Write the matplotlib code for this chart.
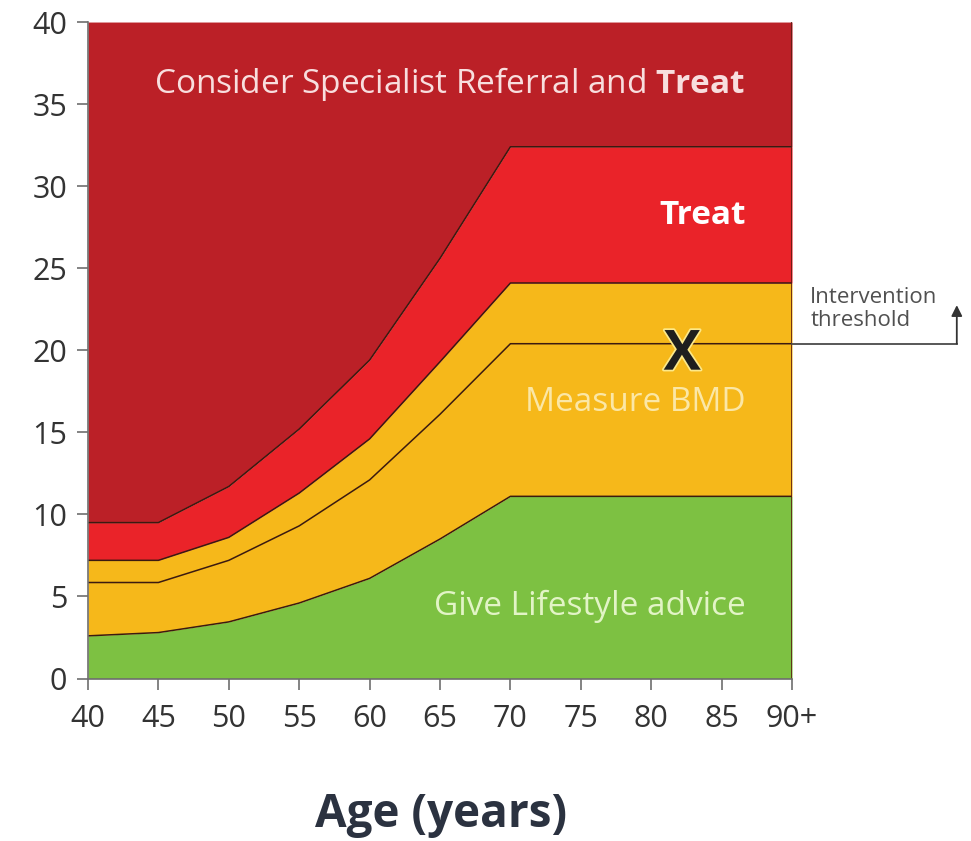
import matplotlib
matplotlib.use("Agg")
import matplotlib.pyplot as plt
import matplotlib.patheffects as pe

# thresholds (10-year probability, %)
ages = [40, 45, 50, 55, 60, 65, 70, 75, 80, 85, 90]
lower_threshold = [2.6, 2.8, 3.45, 4.6, 6.1, 8.5, 11.1, 11.1, 11.1, 11.1, 11.1]
intervention = [5.85, 5.85, 7.2, 9.3, 12.1, 16.1, 20.4, 20.4, 20.4, 20.4, 20.4]
upper_threshold = [7.2, 7.2, 8.6, 11.3, 14.6, 19.3, 24.1, 24.1, 24.1, 24.1, 24.1]
very_high = [9.5, 9.5, 11.7, 15.2, 19.4, 25.6, 32.4, 32.4, 32.4, 32.4, 32.4]
x_ticks = [40, 45, 50, 55, 60, 65, 70, 75, 80, 85, 90]
x_labels = ["40", "45", "50", "55", "60", "65", "70", "75", "80", "85", "90+"]
y_ticks = [0, 5, 10, 15, 20, 25, 30, 35, 40]

GREEN = "#7dc142"
YELLOW = "#f6b81a"
RED = "#ea2329"
DARK_RED = "#bb2027"
LINE = "#3b1a10"

plt.rcParams["font.family"] = ["Open Sans", "DejaVu Sans"]
plt.rcParams["mathtext.fontset"] = "custom"
plt.rcParams["mathtext.rm"] = "Open Sans"
plt.rcParams["mathtext.bf"] = "Open Sans:bold"

fig = plt.figure(figsize=(9.71, 8.41), dpi=100)
ax = fig.add_axes([0.0906, 0.1932, 0.7251, 0.7806])

top = [40] * len(ages)
zero = [0] * len(ages)
ax.fill_between(ages, zero, lower_threshold, color=GREEN, lw=0)
ax.fill_between(ages, lower_threshold, upper_threshold, color=YELLOW, lw=0)
ax.fill_between(ages, upper_threshold, very_high, color=RED, lw=0)
ax.fill_between(ages, very_high, top, color=DARK_RED, lw=0)

for series in (lower_threshold, intervention, upper_threshold, very_high):
    ax.plot(ages, series, color=LINE, lw=1.1)
ax.plot([90, 90], [0, 40], color="#5a1a12", lw=1.2)

ax.set_xlim(40, 90)
ax.set_ylim(0, 40)
ax.set_xticks(x_ticks)
ax.set_xticklabels(x_labels)
ax.set_yticks(y_ticks)
for s in ("top", "right"):
    ax.spines[s].set_visible(False)
for s in ("left", "bottom"):
    ax.spines[s].set_color("#6e6e6e")
    ax.spines[s].set_linewidth(1.2)
ax.tick_params(axis="both", length=8, width=1.2, color="#6e6e6e",
               labelsize=22, labelcolor="#333333")
ax.tick_params(axis="y", pad=7)
ax.tick_params(axis="x", pad=10)

ax.text(86.7, 36.2, r"Consider Specialist Referral and $\mathbf{Treat}$",
        ha="right", va="center", fontsize=24, color="#f8dede")
ax.text(86.7, 28.2, "Treat", ha="right", va="center", fontsize=24,
        fontweight="bold", color="white")
ax.text(86.7, 16.8, "Measure BMD", ha="right", va="center", fontsize=24,
        color="#fbe7a6")
ax.text(86.7, 4.4, "Give Lifestyle advice", ha="right", va="center",
        fontsize=24, color="#e2f4c6")

ax.text(82.2, 19.7, "X", ha="center", va="center", fontsize=40,
        fontweight="bold", color="#1e1e1e",
        path_effects=[pe.withStroke(linewidth=2.5, foreground="#fde98a")])

# intervention threshold callout outside the plot
ax.plot([90, 101.7], [20.4, 20.4], color="#4a4a4a", lw=1.3, clip_on=False)
ax.annotate("", xy=(101.7, 22.75), xytext=(101.7, 20.4),
            arrowprops=dict(arrowstyle="-|>", color="#333333", lw=1.3,
                            mutation_scale=16, shrinkA=0, shrinkB=0),
            annotation_clip=False)
ax.text(91.3, 22.5, "Intervention\nthreshold", ha="left", va="center",
        fontsize=16, color="#505050", linespacing=1.1)

fig.text(0.454, 0.031, "Age (years)", ha="center", va="center",
         fontsize=33, fontweight="bold", color="#2b3240")

fig.savefig("out.png", dpi=100)
